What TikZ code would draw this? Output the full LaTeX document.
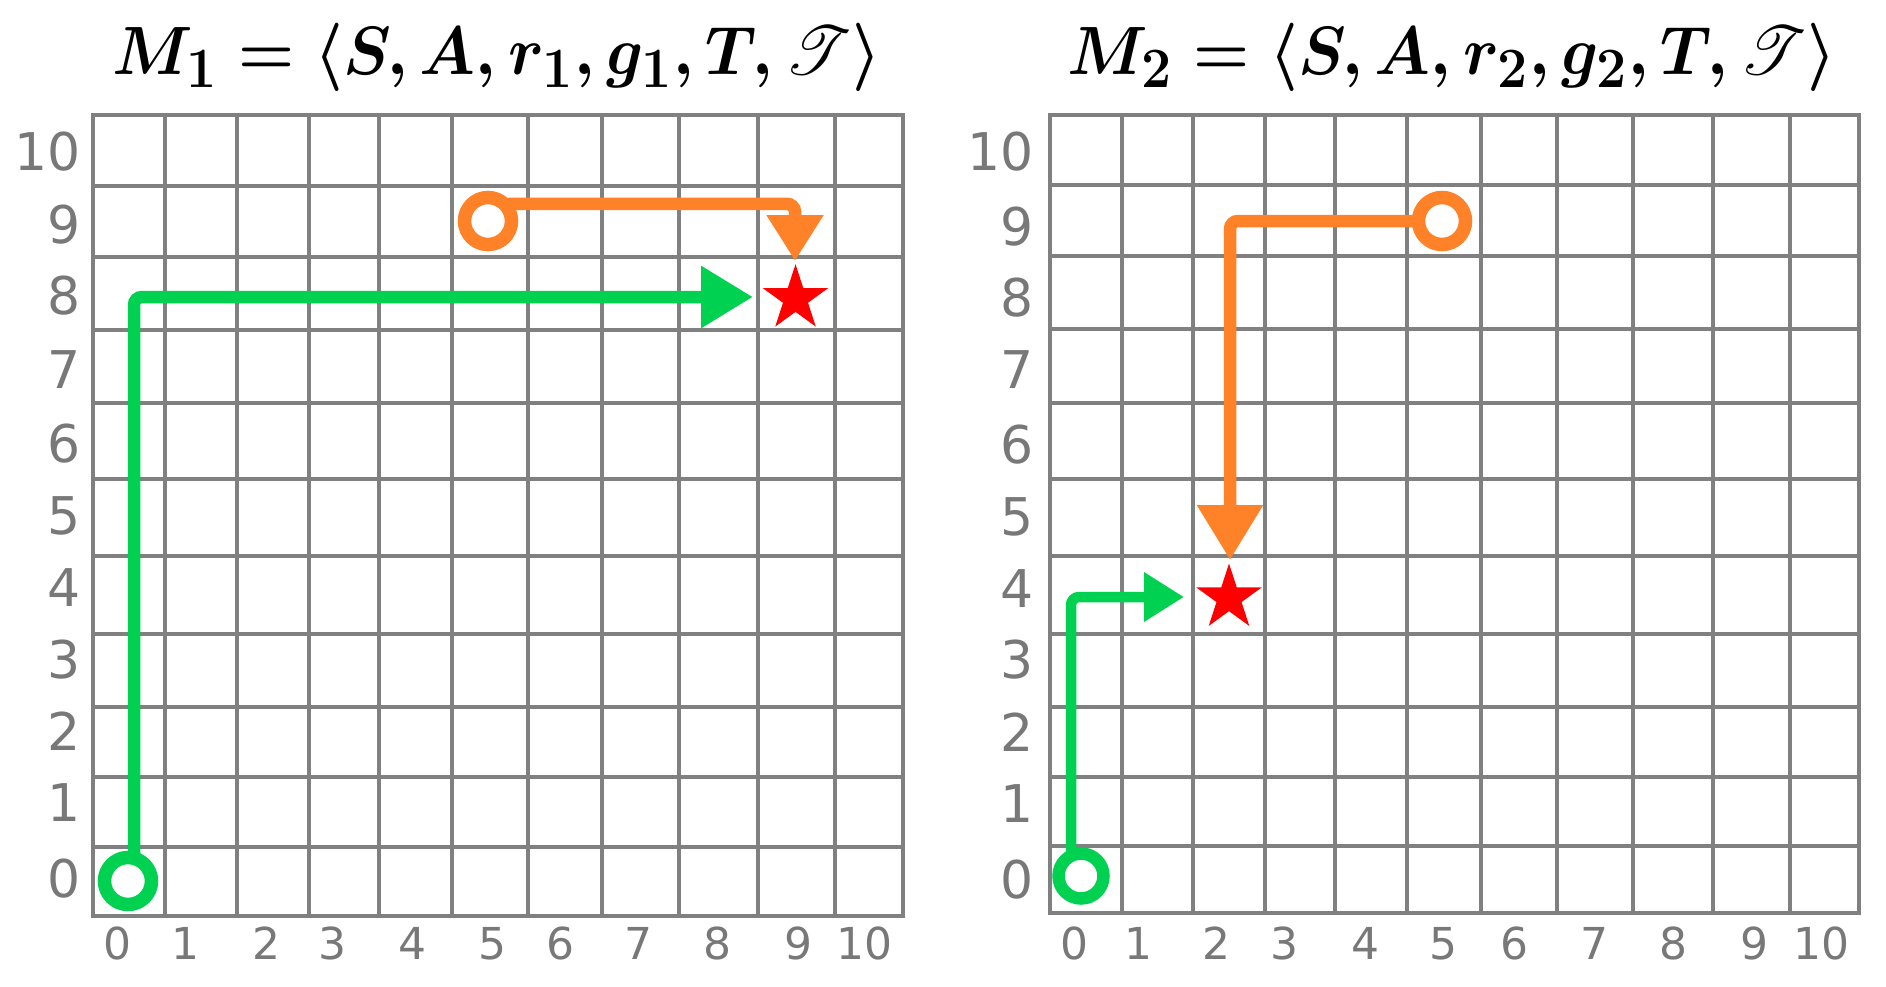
\documentclass[tikz,border=0pt]{standalone}
\usepackage{fontspec}
\usepackage{amsmath}
\usepackage{mathrsfs}
\usetikzlibrary{arrows.meta,shapes.geometric}
\newfontfamily\labfont{DejaVu Sans}
\definecolor{gridgray}{RGB}{128,128,128}
\definecolor{labgray}{RGB}{120,120,120}
\definecolor{pgreen}{RGB}{0,209,80}
\definecolor{porange}{RGB}{255,130,40}
\definecolor{pred}{RGB}{255,0,0}
\newcommand{\bigtitle}[1]{\scalebox{2.58}[2.75]{\fontsize{24.88}{30}\selectfont\boldmath$#1$}}
\begin{document}
\begin{tikzpicture}[x=1pt,y=-1pt,
  gridline/.style={draw=gridgray,line width=3.5pt,line cap=rect},
  ylab/.style={font=\labfont\fontsize{52}{52}\selectfont,text=labgray,anchor=base east,inner sep=0pt},
  xlab/.style={font=\labfont\fontsize{44}{44}\selectfont,text=labgray,anchor=base,inner sep=0pt},
  ring/.style={circle,draw=#1,line width=13.5pt,fill=white,minimum size=47pt,inner sep=0pt,outer sep=0pt},
  goal/.style={star,star points=5,star point ratio=2.618,fill=pred,draw=none,minimum size=69pt,inner sep=0pt},
  title/.style={anchor=base,inner sep=0pt},
  route/.style={draw=#1,line width=12.5pt,rounded corners=8pt},
]
\useasboundingbox (0,0) rectangle (1886,987);
% ---------- left grid ----------
\foreach \x in {93,165,237,309,379,452,528,602,679,758,835,903}
  \draw[gridline] (\x,115) -- (\x,916);
\foreach \y in {115,186,257,330,403,479,556,634,707,777,847,916}
  \draw[gridline] (93,\y) -- (903,\y);
\foreach \t/\x in {0/117,1/185,2/266,3/332,4/412,5/492,6/560,7/638,8/717,9/798,10/864}
  \node[xlab] (xa\t) at (\x,959.5) {\t};
\foreach \t/\y in {10/152,9/224,8/295,7/369,6/443,5/515,4/587,3/659,2/731,1/802,0/878}
  \node[ylab] (ya\t) at (81,\y+19) {\t};
% ---------- right grid ----------
\foreach \x in {1050,1122,1193,1265,1335,1407,1481,1557,1633,1713,1790,1859}
  \draw[gridline] (\x,115) -- (\x,913);
\foreach \y in {115,185,256,329,403,479,556,634,707,777,846,913}
  \draw[gridline] (1050,\y) -- (1859,\y);
\foreach \t/\x in {0/1074,1/1138,2/1216,3/1284,4/1365,5/1443,6/1514,7/1594,8/1673,9/1754,10/1821}
  \node[xlab] (xb\t) at (\x,959.5) {\t};
\foreach \t/\y in {10/152,9/226,8/297,7/369,6/444,5/516,4/588,3/659,2/732,1/803,0/879}
  \node[ylab] (yb\t) at (1034,\y+19) {\t};
% ---------- titles ----------
\node[title] (t1) at (497,75) {\bigtitle{M_1 = \langle S, A, r_1, g_1, T, \mathscr{T}\rangle}};
\node[title] (t2) at (1452,75) {\bigtitle{M_2 = \langle S, A, r_2, g_2, T, \mathscr{T}\rangle}};
% ---------- left routes ----------
\node[ring=pgreen] (gs1) at (128,881) {};
\node[ring=porange] (os1) at (488,221) {};
\node[goal] (goal1) at (795.5,298.7) {};
\coordinate (gt1) at (753,297);
\coordinate (ot1) at (795,261);
\draw[route=pgreen,-{Triangle[length=52pt,width=59pt]}] ([xshift=6pt]gs1.north) |- (gt1);
\draw[route=porange,-{Triangle[length=46pt,width=54pt]}] (os1.47) -| (ot1);
% ---------- right routes ----------
\node[ring=pgreen,line width=12.5pt,minimum size=45pt] (gs2) at (1081,876) {};
\node[ring=porange] (os2) at (1442,221) {};
\node[goal] (goal2) at (1229,598) {};
\coordinate (gt2) at (1184,597);
\coordinate (ot2) at (1230,560);
\draw[route=pgreen,line width=10.5pt,-{Triangle[length=40pt,width=47pt]}] ([xshift=-10pt]gs2.north) |- (gt2);
\draw[route=porange,-{Triangle[length=55pt,width=63pt]}] (os2.west) -| (ot2);
\end{tikzpicture}
\end{document}
